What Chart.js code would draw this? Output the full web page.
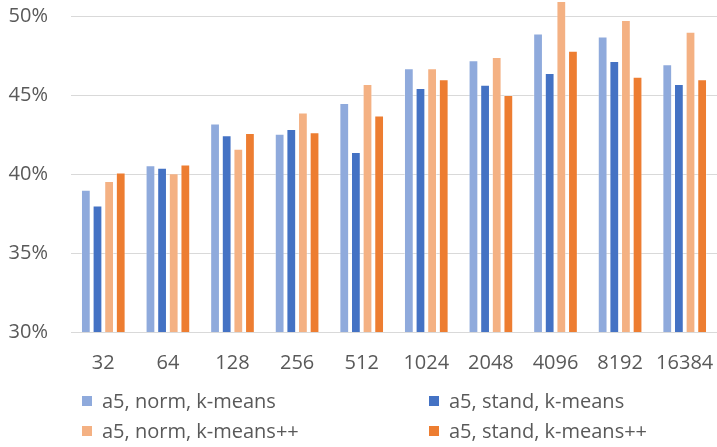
<!DOCTYPE html>
<html>
<head>
<meta charset="utf-8">
<script src="https://cdn.jsdelivr.net/npm/chart.js@4/dist/chart.umd.min.js"></script>
<style>
  html, body { margin: 0; padding: 0; background: #fff; }
  #wrap { position: relative; width: 717px; height: 447px; }
  #chart { position: absolute; left: 0; top: 0; }
  #legend { position: absolute; left: 0; top: 0; width: 717px; height: 447px; pointer-events: none;
            font-family: "Open Sans", sans-serif; font-size: 20px; color: #595959; }
  .item { position: absolute; height: 30px; line-height: 30px; white-space: nowrap; }
  .box { position: absolute; left: 0; top: 10px; width: 10px; height: 10px; }
  .txt { position: absolute; left: 20px; top: 0; }
</style>
</head>
<body>
<div id="wrap">
  <canvas id="chart" width="717" height="447"></canvas>
  <div id="legend"></div>
</div>
<script>
// Number of clusters (x categories)
const categories = ['32', '64', '128', '256', '512', '1024', '2048', '4096', '8192', '16384'];

// Series names
const seriesNames = [
  'a5, norm, k-means',
  'a5, stand, k-means',
  'a5, norm, k-means++',
  'a5, stand, k-means++'
];

// Scores per series, in percent
const normKMeans      = [39.0, 40.55, 43.2, 42.55, 44.5, 46.7, 47.2, 48.9, 48.7, 46.95];
const standKMeans     = [38.0, 40.4, 42.45, 42.85, 41.4, 45.45, 45.65, 46.4, 47.15, 45.7];
const normKMeansPP    = [39.55, 40.05, 41.6, 43.9, 45.7, 46.7, 47.4, 50.95, 49.75, 49.0];
const standKMeansPP   = [40.1, 40.6, 42.6, 42.65, 43.7, 46.0, 45.0, 47.8, 46.15, 46.0];

// Y axis ticks
const yTicks = [30, 35, 40, 45, 50];

const colors = ['#8FAADC', '#4472C4', '#F4B183', '#ED7D31'];
const seriesValues = [normKMeans, standKMeans, normKMeansPP, standKMeansPP];

const textColor = '#595959';
const gridColor = '#d9d9d9';
const fontFamily = '"Open Sans", sans-serif';

const datasets = seriesValues.map((vals, i) => ({
  label: seriesNames[i],
  data: vals,
  backgroundColor: colors[i],
  borderColor: 'rgba(255,255,255,0.35)',
  borderWidth: 1,
  barPercentage: 0.84,
  categoryPercentage: 0.72,
  // bars may run above the top gridline, but stay inside the plot elsewhere
  clip: { left: 0, top: false, right: 0, bottom: 0 }
}));

const chart = new Chart(document.getElementById('chart'), {
  type: 'bar',
  data: { labels: categories, datasets },
  options: {
    responsive: false,
    animation: false,
    layout: { padding: { top: 16, right: 0, bottom: 0, left: 0 } },
    plugins: {
      legend: { display: false },
      tooltip: { enabled: false }
    },
    scales: {
      x: {
        grid: { display: false, drawTicks: false },
        border: { display: true, color: gridColor, width: 1 },
        ticks: {
          color: textColor,
          font: { family: fontFamily, size: 20 },
          padding: 19,
          maxRotation: 0,
          autoSkip: false
        },
        afterFit: (scale) => {
          scale.height = 115;
          scale.paddingLeft = 0;
          scale.paddingRight = 0;
        }
      },
      y: {
        min: yTicks[0],
        max: yTicks[yTicks.length - 1],
        afterBuildTicks: (scale) => { scale.ticks = yTicks.map(v => ({ value: v })); },
        grid: { color: gridColor, lineWidth: 1, drawTicks: false },
        border: { display: false },
        ticks: {
          color: textColor,
          font: { family: fontFamily, size: 20 },
          padding: 23,
          callback: (v) => v + '%'
        },
        afterFit: (scale) => {
          scale.width = 71;
          scale.paddingTop = 0;
          scale.paddingBottom = 0;
        }
      }
    }
  }
});

// Two-column legend below the plot
const legendPos = [
  { x: 82, y: 386 },
  { x: 429, y: 386 },
  { x: 82, y: 416 },
  { x: 429, y: 416 }
];
const legendEl = document.getElementById('legend');
chart.data.datasets.forEach((ds, i) => {
  const item = document.createElement('div');
  item.className = 'item';
  item.style.left = legendPos[i].x + 'px';
  item.style.top = legendPos[i].y + 'px';
  const box = document.createElement('span');
  box.className = 'box';
  box.style.background = ds.backgroundColor;
  const txt = document.createElement('span');
  txt.className = 'txt';
  txt.textContent = ds.label;
  item.appendChild(box);
  item.appendChild(txt);
  legendEl.appendChild(item);
});
</script>
</body>
</html>
